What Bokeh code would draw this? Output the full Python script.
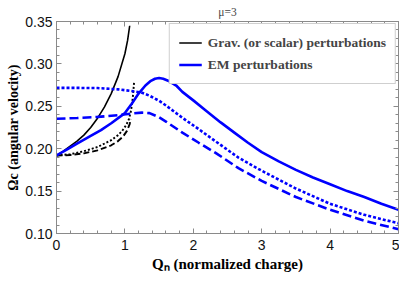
from bokeh.plotting import figure
from bokeh.models import Range1d, LinearAxis, Legend, LegendItem, FixedTicker, NumeralTickFormatter
from bokeh.embed import file_html
from bokeh.resources import INLINE

# ---- data ----
q_grav_solid = [0, 0.1, 0.2, 0.3, 0.4, 0.5, 0.6, 0.7, 0.8, 0.9, 1.0, 1.04, 1.07]
grav_solid = [0.192, 0.197, 0.203, 0.209, 0.216, 0.225, 0.236, 0.249, 0.265, 0.285, 0.312, 0.328, 0.345]

q_grav_dot = [0, 0.2, 0.4, 0.6, 0.8, 0.9, 0.96, 1.02, 1.06, 1.09, 1.115, 1.135]
grav_dot = [0.192, 0.1935, 0.197, 0.202, 0.210, 0.216, 0.221, 0.228, 0.235, 0.245, 0.260, 0.279]

q_grav_dash = [0, 0.2, 0.4, 0.6, 0.8, 0.9, 0.97, 1.03, 1.07, 1.085]
grav_dash = [0.192, 0.1925, 0.1945, 0.198, 0.204, 0.209, 0.214, 0.221, 0.229, 0.235]

q_em_solid = [0, 0.15, 0.3, 0.5, 0.65, 0.8, 1.0, 1.1, 1.2, 1.3, 1.38, 1.44, 1.5, 1.56, 1.65, 1.75,
              1.84, 2.0, 2.2, 2.4, 2.6, 2.8, 3.0, 3.25, 3.5, 3.75, 4.0, 4.25, 4.5, 4.75, 5.0]
em_solid = [0.192, 0.199, 0.206, 0.215, 0.222, 0.230, 0.242, 0.253, 0.265, 0.2745, 0.2800, 0.2825,
            0.2833, 0.2825, 0.2795, 0.2745, 0.267, 0.257, 0.244, 0.231, 0.219, 0.207, 0.196, 0.185,
            0.175, 0.166, 0.158, 0.150, 0.143, 0.135, 0.128]

q_em = [0, 0.3, 0.6, 0.9, 1.1, 1.25, 1.36, 1.5, 1.6, 1.84, 2.08, 2.32, 2.66, 3.0, 3.5, 4.0, 4.5, 5.0]
em_dot = [0.2717, 0.2717, 0.2715, 0.2700, 0.2680, 0.2660, 0.2625, 0.2565, 0.2510, 0.2365, 0.2230,
          0.2090, 0.1895, 0.1740, 0.1530, 0.1350, 0.1220, 0.1120]
em_dash = [0.2353, 0.2362, 0.2375, 0.2395, 0.2415, 0.2425, 0.2420, 0.2370, 0.2320, 0.2190, 0.2070,
           0.1954, 0.1770, 0.1620, 0.1430, 0.1280, 0.1150, 0.1050]

x_ticks = [0, 1, 2, 3, 4, 5]
y_ticks = [0.10, 0.15, 0.20, 0.25, 0.30, 0.35]
x_minor = [i * 0.2 for i in range(26)]
y_minor = [0.10 + i * 0.01 for i in range(26)]

legend_labels = ["Grav. (or scalar) perturbations", "EM perturbations"]
title_text = "\u03bc=3"
x_label = "Q\u2099 (normalized charge)"
y_label = "\u03a9c (angular velocity)"

SERIF = "Liberation Serif"
SANS = "Liberation Sans"
AX = "#8a8a8a"

p = figure(width=399, height=276, x_range=Range1d(0, 5), y_range=Range1d(0.10, 0.35),
           output_backend="svg", toolbar_location=None,
           min_border_left=56, min_border_right=1, min_border_top=20, min_border_bottom=43)
p.grid.visible = False
p.outline_line_color = AX
p.background_fill_color = "white"

p.title.text = title_text
p.title.align = "center"
p.title.text_font = SERIF
p.title.text_font_style = "normal"
p.title.text_font_size = "11.5px"
p.title.standoff = 7


def style_axis(ax, show_labels):
    ax.axis_line_color = AX
    ax.major_tick_line_color = AX
    ax.minor_tick_line_color = AX
    ax.major_tick_in = 5
    ax.major_tick_out = 0
    ax.minor_tick_in = 3
    ax.minor_tick_out = 0
    if show_labels:
        ax.major_label_text_font = SANS
        ax.major_label_text_font_size = "14px"
        ax.major_label_text_color = "#111111"
        ax.axis_label_text_font = SERIF
        ax.axis_label_text_font_style = "bold"
        ax.axis_label_text_color = "black"
    else:
        ax.major_label_text_font_size = "0px"
        ax.major_label_text_color = None
        ax.major_label_standoff = 0


p.xaxis.ticker = FixedTicker(ticks=x_ticks, minor_ticks=x_minor)
p.xaxis.formatter = NumeralTickFormatter(format="0")
p.yaxis.ticker = FixedTicker(ticks=y_ticks, minor_ticks=y_minor)
p.yaxis.formatter = NumeralTickFormatter(format="0.00")
for ax in p.xaxis + p.yaxis:
    style_axis(ax, True)
p.xaxis.major_label_standoff = 6
p.yaxis.major_label_standoff = 4
p.xaxis.axis_label = x_label
p.yaxis.axis_label = y_label
p.xaxis.axis_label_text_font_size = "15px"
p.yaxis.axis_label_text_font_size = "14px"
p.xaxis.axis_label_standoff = 3
p.yaxis.axis_label_standoff = 1

top_ax = LinearAxis(ticker=FixedTicker(ticks=x_ticks, minor_ticks=x_minor))
right_ax = LinearAxis(ticker=FixedTicker(ticks=y_ticks, minor_ticks=y_minor))
style_axis(top_ax, False)
style_axis(right_ax, False)
p.add_layout(top_ax, "above")
p.add_layout(right_ax, "right")

# ---- curves ----
r_gs = p.line(q_grav_solid, grav_solid, line_color="black", line_width=1.6, line_join="round")
p.line(q_grav_dot, grav_dot, line_color="black", line_width=1.9, line_dash="2 2")
p.line(q_grav_dash, grav_dash, line_color="black", line_width=1.9, line_dash="6 3")
r_es = p.line(q_em_solid, em_solid, line_color="#0000ff", line_width=2.6, line_join="round")
p.line(q_em, em_dot, line_color="#0000ff", line_width=2.6, line_dash="3 2")
p.line(q_em, em_dash, line_color="#0000ff", line_width=2.6, line_dash="9 4")

legend = Legend(items=[LegendItem(label=legend_labels[0], renderers=[r_gs]),
                       LegendItem(label=legend_labels[1], renderers=[r_es])],
                location="top_right", margin=2, padding=9, spacing=3,
                glyph_width=23, glyph_height=19, label_height=19, label_standoff=6,
                label_text_font=SERIF, label_text_font_style="bold",
                label_text_font_size="13.5px",
                border_line_color="#a0a0a0", border_line_width=1.5,
                background_fill_color="white", background_fill_alpha=1.0)
p.add_layout(legend)

open("out.html", "w").write(file_html(p, INLINE))
